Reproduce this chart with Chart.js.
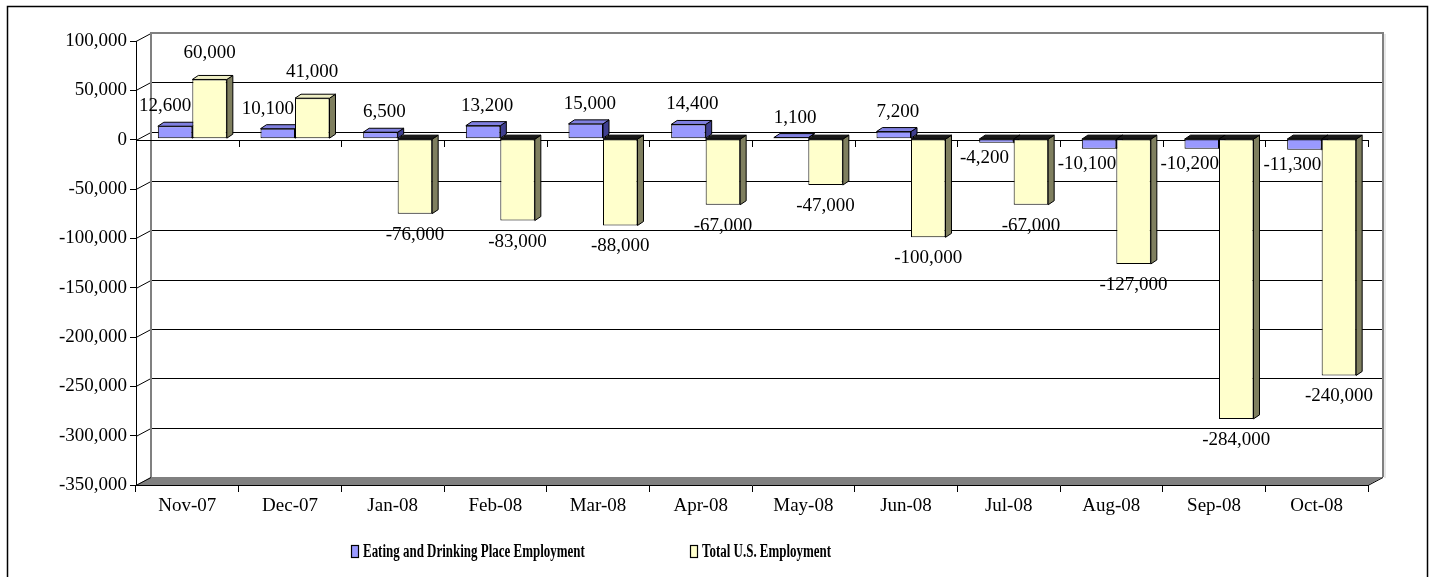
<!DOCTYPE html>
<html><head><meta charset="utf-8">
<script src="https://cdn.jsdelivr.net/npm/chart.js@4.4.0/dist/chart.umd.min.js"></script>
<style>html,body{margin:0;padding:0;background:#fff;}#wrap{width:1432px;height:577px;position:relative;}</style>
</head><body><div id="wrap"><canvas id="c" width="1432" height="577"></canvas></div>
<script>
const categories = ['Nov-07','Dec-07','Jan-08','Feb-08','Mar-08','Apr-08','May-08','Jun-08','Jul-08','Aug-08','Sep-08','Oct-08'];
const eatingValues = [12600,10100,6500,13200,15000,14400,1100,7200,-4200,-10100,-10200,-11300];
const totalValues = [60000,41000,-76000,-83000,-88000,-67000,-47000,-100000,-67000,-127000,-284000,-240000];
const seriesNames = ['Eating and Drinking Place Employment','Total U.S. Employment'];
const yTickValues = [100000,50000,0,-50000,-100000,-150000,-200000,-250000,-300000,-350000];
const yTickLabels = ['100,000','50,000','0','-50,000','-100,000','-150,000','-200,000','-250,000','-300,000','-350,000'];

const FONT = "'Liberation Serif','Times New Roman',serif";
const faceColors = [
  {front:'#9999FF', side:'#3f3f8f', top:'#8080e0'},
  {front:'#FFFFCC', side:'#7f7f5f', top:'#eeeec4'}
];
const SHIFT = {x:5, y:-1};
const DEPTH = {x:6, y:4};
const WALL = {x:15, y:8};

function poly(ctx, pts, fill){
  ctx.beginPath(); ctx.moveTo(pts[0][0],pts[0][1]);
  for(let i=1;i<pts.length;i++) ctx.lineTo(pts[i][0],pts[i][1]);
  ctx.closePath(); ctx.fillStyle=fill; ctx.fill();
  ctx.lineWidth=1; ctx.strokeStyle='#000'; ctx.stroke();
}

const excel3d = {
  id:'excel3d',
  beforeDraw(chart){
    const ctx=chart.ctx, a=chart.chartArea, ys=chart.scales.y;
    ctx.save();
    ctx.fillStyle='#fff'; ctx.fillRect(0,0,chart.width,chart.height);
    ctx.strokeStyle='#000'; ctx.lineWidth=1.5; ctx.strokeRect(7.5,6.5,1420,620);
    const L=a.left, R=a.right, T=a.top, B=a.bottom;
    // floor
    ctx.beginPath(); ctx.moveTo(L,B); ctx.lineTo(L+WALL.x,B-WALL.y); ctx.lineTo(R+WALL.x,B-WALL.y); ctx.lineTo(R,B); ctx.closePath();
    ctx.fillStyle='#808080'; ctx.fill();
    ctx.strokeStyle='#000'; ctx.lineWidth=1;
    ctx.beginPath(); ctx.moveTo(R,B+0.5); ctx.lineTo(R+WALL.x,B-WALL.y+0.5); ctx.stroke();
    // grid lines on back wall + connectors
    yTickValues.forEach(v=>{
      const p=Math.round(ys.getPixelForValue(v));
      const pb=p-WALL.y;
      if(v!==yTickValues[0] && v!==yTickValues[yTickValues.length-1]){
        ctx.strokeStyle='#000'; ctx.lineWidth=1;
        ctx.beginPath(); ctx.moveTo(L+WALL.x,pb+0.5); ctx.lineTo(R+WALL.x,pb+0.5); ctx.stroke();
      }
      ctx.strokeStyle='#000'; ctx.lineWidth=1;
      ctx.beginPath(); ctx.moveTo(L,p+0.5); ctx.lineTo(L+WALL.x,pb+0.5); ctx.stroke();
    });
    // wall edges
    const topB=Math.round(ys.getPixelForValue(yTickValues[0]))-WALL.y;
    ctx.strokeStyle='#d0d0d0'; ctx.lineWidth=1;
    ctx.beginPath(); ctx.moveTo(R+WALL.x+2,topB+1); ctx.lineTo(R+WALL.x+2,B-WALL.y+1); ctx.stroke();
    ctx.strokeStyle='#808080'; ctx.lineWidth=2;
    ctx.beginPath();
    ctx.moveTo(L+WALL.x,B-WALL.y); ctx.lineTo(L+WALL.x,topB); ctx.lineTo(R+WALL.x,topB); ctx.lineTo(R+WALL.x,B-WALL.y);
    ctx.stroke();
    ctx.restore();
  },
  beforeDatasetsDraw(chart){
    const ctx=chart.ctx, a=chart.chartArea, ys=chart.scales.y, xs=chart.scales.x;
    const z=Math.round(ys.getPixelForValue(0));
    ctx.save();
    ctx.strokeStyle='#000'; ctx.lineWidth=1;
    ctx.beginPath(); ctx.moveTo(a.left,z+0.5); ctx.lineTo(a.right,z+0.5); ctx.stroke();
    const cw=(a.right-a.left)/categories.length;
    for(let i=1;i<=categories.length;i++){
      const x=Math.round(xs.getPixelForValue(i-1)+cw/2)+0.5;
      ctx.beginPath(); ctx.moveTo(x,z); ctx.lineTo(x,z+7); ctx.stroke();
    }
    ctx.restore();
    ctx.save();
    ctx.translate(SHIFT.x,SHIFT.y);
    const metas=[chart.getDatasetMeta(0),chart.getDatasetMeta(1)];
    for(let i=0;i<categories.length;i++){
      metas.forEach((m,di)=>{
        const el=m.data[i]; const pr=el.getProps(['x','y','base','width']);
        const x1=pr.x-pr.width/2, x2=pr.x+pr.width/2;
        const top=Math.min(pr.y,pr.base), bot=Math.max(pr.y,pr.base);
        const neg=pr.y>pr.base;
        const c=faceColors[di];
        poly(ctx,[[x2,top],[x2+DEPTH.x,top-DEPTH.y],[x2+DEPTH.x,bot-DEPTH.y],[x2,bot]],c.side);
        poly(ctx,[[x1,top],[x2,top],[x2+DEPTH.x,top-DEPTH.y],[x1+DEPTH.x,top-DEPTH.y]],neg?'#1a1a1a':c.top);
      });
    }
  },
  afterDatasetsDraw(chart){
    const ctx=chart.ctx, ys=chart.scales.y;
    ctx.restore();
    ctx.save();
    ctx.font='19px '+FONT; ctx.fillStyle='#000'; ctx.textAlign='center'; ctx.textBaseline='middle';
    [eatingValues,totalValues].forEach((vals,di)=>{
      const m=chart.getDatasetMeta(di);
      vals.forEach((v,i)=>{
        const pr=m.data[i].getProps(['x','y']);
        const p=ys.getPixelForValue(v);
        let x=pr.x+SHIFT.x, y;
        if(di===0){
          if(v>=0){ y=p-21; x+= totalValues[i]>0 ? -10 : 4; }
          else { y=p+14; x-=12; }
        } else {
          y = v>=0 ? p-27 : p+20;
        }
        ctx.fillText(v.toLocaleString('en-US'),x,y);
      });
    });
    // legend
    const legendItems=[{x:351,label:seriesNames[0],color:faceColors[0].front},{x:690,label:seriesNames[1],color:faceColors[1].front}];
    legendItems.forEach(it=>{
      ctx.fillStyle=it.color; ctx.fillRect(it.x+0.5,545.5,7,12);
      ctx.strokeStyle='#000'; ctx.lineWidth=1.2; ctx.strokeRect(it.x+0.5,545.5,7,12);
      ctx.save();
      ctx.translate(it.x+12,552);
      ctx.scale(0.72,1);
      ctx.font='bold 18px '+FONT; ctx.fillStyle='#000'; ctx.textAlign='left'; ctx.textBaseline='middle';
      ctx.fillText(it.label,0,0);
      ctx.restore();
    });
    ctx.restore();
  }
};

new Chart(document.getElementById('c'),{
  type:'bar',
  data:{labels:categories,datasets:[
    {label:seriesNames[0],data:eatingValues,backgroundColor:faceColors[0].front,borderColor:'#000',borderWidth:1,borderSkipped:false,categoryPercentage:0.672,barPercentage:1},
    {label:seriesNames[1],data:totalValues,backgroundColor:faceColors[1].front,borderColor:'#000',borderWidth:1,borderSkipped:false,categoryPercentage:0.672,barPercentage:1}
  ]},
  options:{
    responsive:false,animation:false,devicePixelRatio:1,
    layout:{padding:{left:0,top:41,right:64,bottom:0}},
    plugins:{legend:{display:false},tooltip:{enabled:false}},
    datasets:{bar:{clip:false}},
    scales:{
      x:{offset:true,
        grid:{display:true,drawOnChartArea:false,offset:true,tickLength:7,color:'#000'},
        border:{display:true,color:'#000',width:1},
        ticks:{font:{family:FONT,size:19},color:'#000',padding:3,maxRotation:0,autoSkip:false},
        afterFit(s){s.height=92;}
      },
      y:{min:-350000,max:100000,
        grid:{display:true,drawOnChartArea:false,tickLength:6,color:'#000'},
        border:{display:true,color:'#000',width:1},
        ticks:{stepSize:50000,font:{family:FONT,size:19},color:'#000',padding:3,
          callback:(v)=>{const k=yTickValues.indexOf(v);return k>=0?yTickLabels[k]:'';}},
        afterFit(s){s.width=136;}
      }
    }
  },
  plugins:[excel3d]
});
</script></body></html>
